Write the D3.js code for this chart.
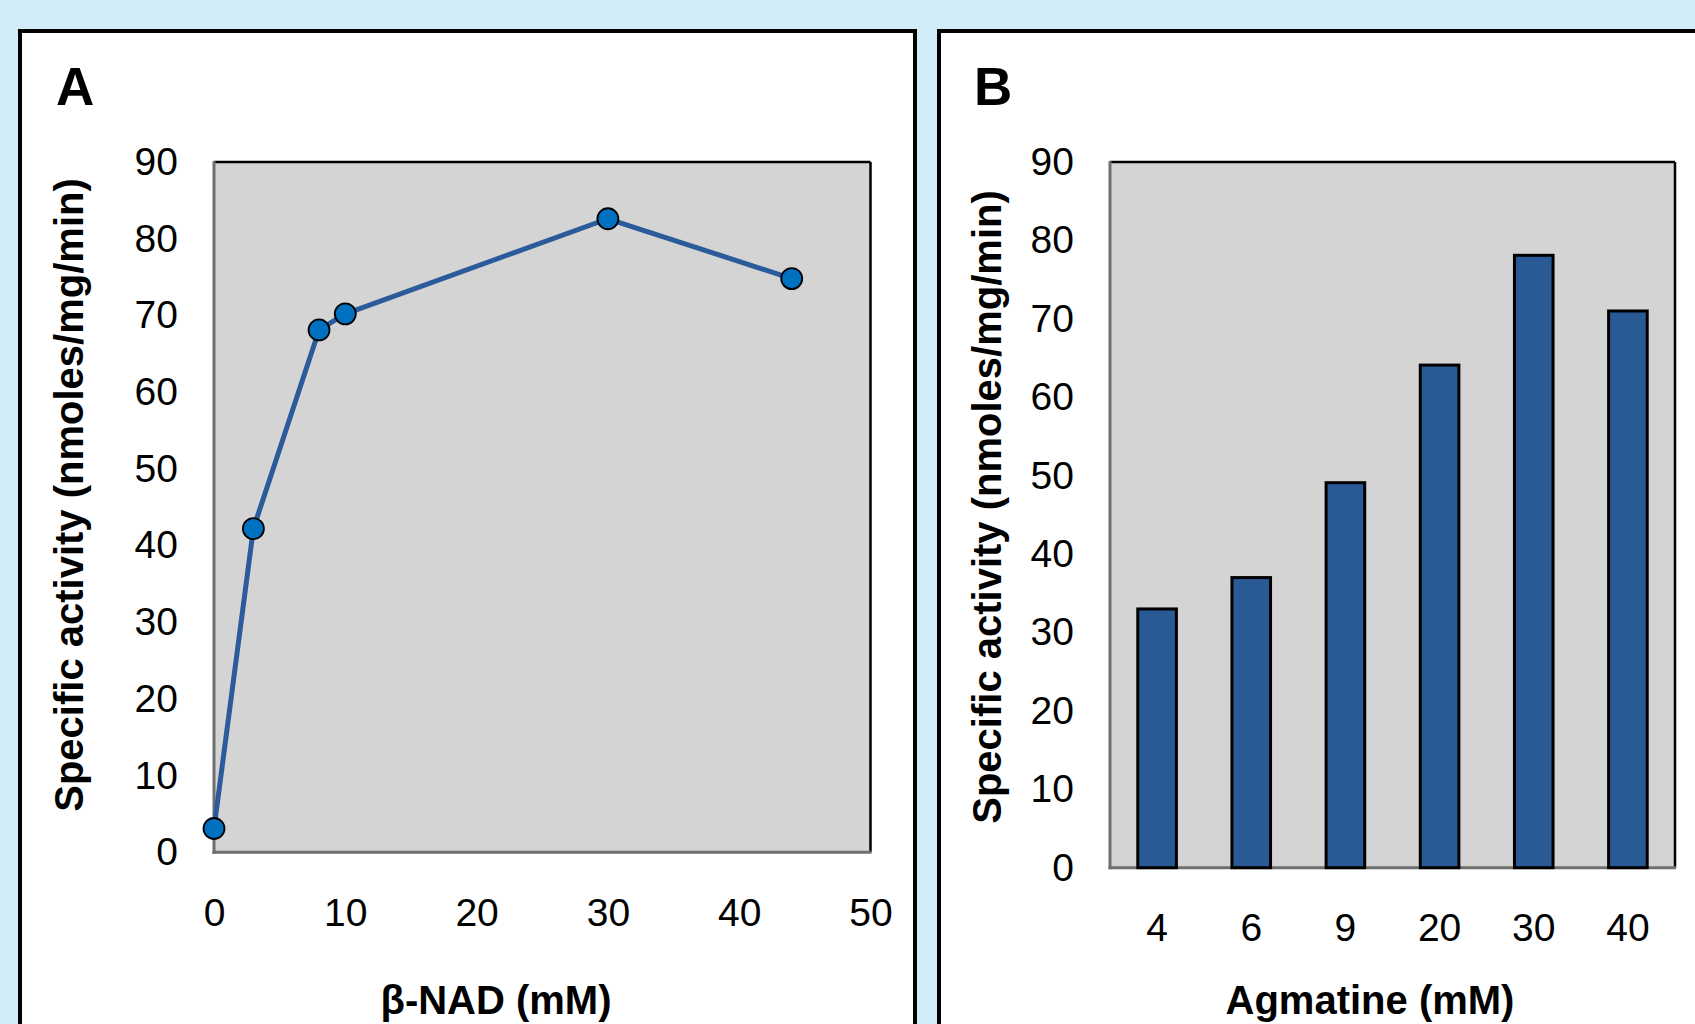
<!DOCTYPE html>
<html>
<head>
<meta charset="utf-8">
<script src="https://cdn.jsdelivr.net/npm/d3@7/dist/d3.min.js"></script>
<style>
  html, body { margin: 0; padding: 0; background: #d1ecf6; }
  svg { display: block; }
  text { font-family: "Liberation Sans", Arial, sans-serif; fill: #000; }
</style>
</head>
<body>
<svg id="chart" width="1695" height="1024"></svg>
<script>
// ---- Data ----
const nadConc = [0, 3, 8, 10, 30, 44];
const nadActivity = [3.1, 42.2, 68.1, 70.2, 82.6, 74.8];
const nadXTicks = [0, 10, 20, 30, 40, 50];

const agmCategories = ["4", "6", "9", "20", "30", "40"];
const agmActivity = [33.0, 37.0, 49.1, 64.1, 78.1, 71.0];

const yTicks = [0, 10, 20, 30, 40, 50, 60, 70, 80, 90];

const panelLabels = ["A", "B"];
const yTitle = "Specific activity (nmoles/mg/min)";
const xTitles = ["β-NAD (mM)", "Agmatine (mM)"];

// ---- Drawing ----
const svg = d3.select("#chart");
svg.append("rect").attr("x", 0).attr("y", 0).attr("width", 1695).attr("height", 1024).attr("fill", "#d1ecf6");

const TICK_FS = 39, TITLE_FS = 40, LABEL_FS = 53;

function panel(px, pw) {
  svg.append("rect").attr("x", px).attr("y", 31).attr("width", pw).attr("height", 1100)
    .attr("fill", "#fff").attr("stroke", "#000").attr("stroke-width", 4);
}
panel(20, 895);
panel(939, 900);

function frame(g, x0, x1, y0, y1) {
  g.append("rect").attr("x", x0).attr("y", y0).attr("width", x1 - x0).attr("height", y1 - y0)
    .attr("fill", "#d4d4d4");
  return () => {
    g.append("line").attr("x1", x0).attr("x2", x1).attr("y1", y0).attr("y2", y0).attr("stroke", "#000").attr("stroke-width", 2.5);
    g.append("line").attr("x1", x1).attr("x2", x1).attr("y1", y0).attr("y2", y1).attr("stroke", "#000").attr("stroke-width", 2.5);
    g.append("line").attr("x1", x0).attr("x2", x0).attr("y1", y0 - 1).attr("y2", y1 + 1.5).attr("stroke", "#6f6f6f").attr("stroke-width", 3);
    g.append("line").attr("x1", x0 - 1.5).attr("x2", x1 + 1).attr("y1", y1).attr("y2", y1).attr("stroke", "#6f6f6f").attr("stroke-width", 3);
  };
}

function styleAxis(sel) {
  sel.select(".domain").remove();
  sel.selectAll("text").attr("font-size", TICK_FS).attr("font-family", '"Liberation Sans", Arial, sans-serif').attr("fill", "#000");
}

// ---- Panel A: line chart ----
{
  const g = svg.append("g");
  const x = d3.scaleLinear().domain([0, 50]).range([214, 870.5]);
  const y = d3.scaleLinear().domain([0, 90]).range([852.3, 162]);
  const finish = frame(g, 214, 870.5, 162, 852.3);

  g.append("g").attr("transform", "translate(214,0)")
    .call(d3.axisLeft(y).tickValues(yTicks).tickSize(0).tickPadding(36).tickFormat(d3.format("d")))
    .call(styleAxis);
  g.append("g").attr("transform", "translate(0,852.3)")
    .call(d3.axisBottom(x).tickValues(nadXTicks).tickSize(0).tickPadding(46).tickFormat(d3.format("d")))
    .call(styleAxis);
  finish();

  const pts = nadConc.map((c, i) => [c, nadActivity[i]]);
  g.append("path").datum(pts)
    .attr("d", d3.line().x(d => x(d[0])).y(d => y(d[1])))
    .attr("fill", "none").attr("stroke", "#2b5b9a").attr("stroke-width", 5).attr("stroke-linejoin", "round");
  g.selectAll("circle.pt").data(pts).join("circle")
    .attr("class", "pt")
    .attr("cx", d => x(d[0])).attr("cy", d => y(d[1])).attr("r", 10.5)
    .attr("fill", "#0070c0").attr("stroke", "#000").attr("stroke-width", 1.8);

  g.append("text").attr("x", 56).attr("y", 105).attr("font-size", LABEL_FS).attr("font-weight", "bold").text(panelLabels[0]);
  g.append("text").attr("transform", "translate(83,495) rotate(-90)")
    .attr("text-anchor", "middle").attr("font-size", TITLE_FS).attr("font-weight", "bold").text(yTitle);
  g.append("text").attr("x", 496).attr("y", 1014).attr("text-anchor", "middle")
    .attr("font-size", TITLE_FS).attr("font-weight", "bold").text(xTitles[0]);
}

// ---- Panel B: bar chart ----
{
  const g = svg.append("g");
  const x = d3.scaleBand().domain(agmCategories).range([1110, 1675]).paddingInner(0.59).paddingOuter(0.295);
  const y = d3.scaleLinear().domain([0, 90]).range([867.7, 162]);
  const finish = frame(g, 1110, 1675, 162, 867.7);

  g.append("g").attr("transform", "translate(1110,0)")
    .call(d3.axisLeft(y).tickValues(yTicks).tickSize(0).tickPadding(36).tickFormat(d3.format("d")))
    .call(styleAxis);
  g.append("g").attr("transform", "translate(0,867.7)")
    .call(d3.axisBottom(x).tickSize(0).tickPadding(46))
    .call(styleAxis);
  finish();

  g.selectAll("rect.bar").data(agmCategories).join("rect")
    .attr("class", "bar")
    .attr("x", d => x(d)).attr("width", x.bandwidth())
    .attr("y", (d, i) => y(agmActivity[i]))
    .attr("height", (d, i) => y(0) - y(agmActivity[i]))
    .attr("fill", "#2a5a96").attr("stroke", "#000").attr("stroke-width", 3);

  g.append("text").attr("x", 974).attr("y", 105).attr("font-size", LABEL_FS).attr("font-weight", "bold").text(panelLabels[1]);
  g.append("text").attr("transform", "translate(1001,507) rotate(-90)")
    .attr("text-anchor", "middle").attr("font-size", TITLE_FS).attr("font-weight", "bold").text(yTitle);
  g.append("text").attr("x", 1370).attr("y", 1014).attr("text-anchor", "middle")
    .attr("font-size", TITLE_FS).attr("font-weight", "bold").text(xTitles[1]);
}
</script>
</body>
</html>
